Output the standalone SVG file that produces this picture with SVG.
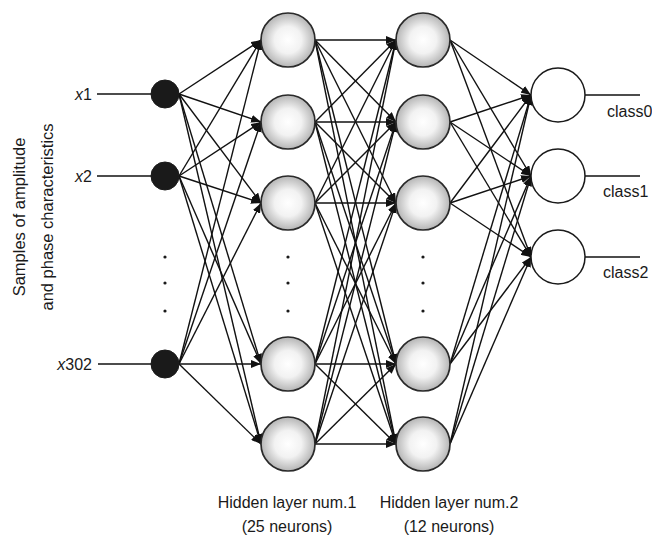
<svg xmlns="http://www.w3.org/2000/svg" width="652" height="537" viewBox="0 0 652 537">
<style>
text{font-family:"Liberation Sans",Arial,sans-serif;font-size:16px;fill:#1a1a1a}
.v{font-size:16.5px}
.c line{stroke:#111;stroke-width:1.4;fill:none}
.a{marker-end:url(#ah)}
.in{fill:#1a1a1a;stroke:#1a1a1a}
.hid{fill:url(#g);stroke:#2a2a2a;stroke-width:1.7}
.out{fill:#fff;stroke:#1a1a1a;stroke-width:1.5}
.dot{fill:#1a1a1a}
</style>
<defs>
<radialGradient id="g" cx="0.5" cy="0.5" r="0.5">
<stop offset="0" stop-color="#ffffff"/>
<stop offset="0.5" stop-color="#f2f2f2"/>
<stop offset="1" stop-color="#b5b5b5"/>
</radialGradient>
<marker id="ah" markerUnits="userSpaceOnUse" markerWidth="10" markerHeight="8" refX="10" refY="4" orient="auto">
<path d="M0,0 L10,4 L0,8 z" fill="#111"/>
</marker>
</defs>
<text class="v" transform="translate(25,217) rotate(-90)" text-anchor="middle">Samples of amplitude</text>
<text class="v" transform="translate(53,217) rotate(-90)" text-anchor="middle">and phase characteristics</text>
<g id="connectors" class="c">
<line x1="97" y1="94" x2="151" y2="94"/>
<line x1="97" y1="176" x2="151" y2="176"/>
<line x1="98" y1="364" x2="151" y2="364"/>
<line x1="585" y1="95" x2="640" y2="95"/>
<line x1="585" y1="176" x2="640" y2="176"/>
<line x1="585" y1="257" x2="640" y2="257"/>
<line class="a" x1="179" y1="94" x2="261" y2="40"/>
<line class="a" x1="179" y1="94" x2="261" y2="122"/>
<line class="a" x1="179" y1="94" x2="261" y2="203"/>
<line class="a" x1="179" y1="94" x2="261" y2="364"/>
<line class="a" x1="179" y1="94" x2="261" y2="444"/>
<line class="a" x1="179" y1="176" x2="261" y2="40"/>
<line class="a" x1="179" y1="176" x2="261" y2="122"/>
<line class="a" x1="179" y1="176" x2="261" y2="203"/>
<line class="a" x1="179" y1="176" x2="261" y2="364"/>
<line class="a" x1="179" y1="176" x2="261" y2="444"/>
<line class="a" x1="179" y1="364" x2="261" y2="40"/>
<line class="a" x1="179" y1="364" x2="261" y2="122"/>
<line class="a" x1="179" y1="364" x2="261" y2="203"/>
<line class="a" x1="179" y1="364" x2="261" y2="364"/>
<line class="a" x1="179" y1="364" x2="261" y2="444"/>
<line class="a" x1="315" y1="40" x2="396" y2="40"/>
<line class="a" x1="315" y1="40" x2="396" y2="122"/>
<line class="a" x1="315" y1="40" x2="396" y2="203"/>
<line class="a" x1="315" y1="40" x2="396" y2="364"/>
<line class="a" x1="315" y1="40" x2="396" y2="444"/>
<line class="a" x1="315" y1="122" x2="396" y2="40"/>
<line class="a" x1="315" y1="122" x2="396" y2="122"/>
<line class="a" x1="315" y1="122" x2="396" y2="203"/>
<line class="a" x1="315" y1="122" x2="396" y2="364"/>
<line class="a" x1="315" y1="122" x2="396" y2="444"/>
<line class="a" x1="315" y1="203" x2="396" y2="40"/>
<line class="a" x1="315" y1="203" x2="396" y2="122"/>
<line class="a" x1="315" y1="203" x2="396" y2="203"/>
<line class="a" x1="315" y1="203" x2="396" y2="364"/>
<line class="a" x1="315" y1="203" x2="396" y2="444"/>
<line class="a" x1="315" y1="364" x2="396" y2="40"/>
<line class="a" x1="315" y1="364" x2="396" y2="122"/>
<line class="a" x1="315" y1="364" x2="396" y2="203"/>
<line class="a" x1="315" y1="364" x2="396" y2="364"/>
<line class="a" x1="315" y1="364" x2="396" y2="444"/>
<line class="a" x1="315" y1="444" x2="396" y2="40"/>
<line class="a" x1="315" y1="444" x2="396" y2="122"/>
<line class="a" x1="315" y1="444" x2="396" y2="203"/>
<line class="a" x1="315" y1="444" x2="396" y2="364"/>
<line class="a" x1="315" y1="444" x2="396" y2="444"/>
<line class="a" x1="450" y1="40" x2="531" y2="95"/>
<line class="a" x1="450" y1="40" x2="531" y2="176"/>
<line class="a" x1="450" y1="40" x2="531" y2="257"/>
<line class="a" x1="450" y1="122" x2="531" y2="95"/>
<line class="a" x1="450" y1="122" x2="531" y2="176"/>
<line class="a" x1="450" y1="122" x2="531" y2="257"/>
<line class="a" x1="450" y1="203" x2="531" y2="95"/>
<line class="a" x1="450" y1="203" x2="531" y2="176"/>
<line class="a" x1="450" y1="203" x2="531" y2="257"/>
<line class="a" x1="450" y1="364" x2="531" y2="95"/>
<line class="a" x1="450" y1="364" x2="531" y2="176"/>
<line class="a" x1="450" y1="364" x2="531" y2="257"/>
<line class="a" x1="450" y1="444" x2="531" y2="95"/>
<line class="a" x1="450" y1="444" x2="531" y2="176"/>
<line class="a" x1="450" y1="444" x2="531" y2="257"/>
</g>
<g id="in1"><circle class="in" cx="165" cy="94" r="14"/><text x="92" y="100" text-anchor="end"><tspan font-style="italic">x</tspan>1</text></g>
<g id="in2"><circle class="in" cx="165" cy="176" r="14"/><text x="92" y="182" text-anchor="end"><tspan font-style="italic">x</tspan>2</text></g>
<g id="in302"><circle class="in" cx="165" cy="364" r="14"/><text x="92" y="370" text-anchor="end"><tspan font-style="italic">x</tspan>302</text></g>
<g id="in-dots"><circle class="dot" cx="165" cy="257" r="1.6"/><circle class="dot" cx="165" cy="283" r="1.6"/><circle class="dot" cx="165" cy="311" r="1.6"/></g>
<g id="h1a"><circle class="hid" cx="288" cy="40" r="27"/></g>
<g id="h1b"><circle class="hid" cx="288" cy="122" r="27"/></g>
<g id="h1c"><circle class="hid" cx="288" cy="203" r="27"/></g>
<g id="h1d"><circle class="hid" cx="288" cy="364" r="27"/></g>
<g id="h1e"><circle class="hid" cx="288" cy="444" r="27"/></g>
<g id="h1-dots"><circle class="dot" cx="288" cy="257" r="1.6"/><circle class="dot" cx="288" cy="283" r="1.6"/><circle class="dot" cx="288" cy="311" r="1.6"/></g>
<g id="h2a"><circle class="hid" cx="423" cy="40" r="27"/></g>
<g id="h2b"><circle class="hid" cx="423" cy="122" r="27"/></g>
<g id="h2c"><circle class="hid" cx="423" cy="203" r="27"/></g>
<g id="h2d"><circle class="hid" cx="423" cy="364" r="27"/></g>
<g id="h2e"><circle class="hid" cx="423" cy="444" r="27"/></g>
<g id="h2-dots"><circle class="dot" cx="423" cy="257" r="1.6"/><circle class="dot" cx="423" cy="283" r="1.6"/><circle class="dot" cx="423" cy="311" r="1.6"/></g>
<g id="out0"><circle class="out" cx="558" cy="95" r="27"/><text x="607" y="117">class0</text></g>
<g id="out1"><circle class="out" cx="558" cy="176" r="27"/><text x="603" y="197">class1</text></g>
<g id="out2"><circle class="out" cx="558" cy="257" r="27"/><text x="603" y="278">class2</text></g>
<g id="labels">
<text x="287" y="508" text-anchor="middle">Hidden layer num.1</text>
<text x="287" y="532" text-anchor="middle">(25 neurons)</text>
<text x="449" y="508" text-anchor="middle">Hidden layer num.2</text>
<text x="449" y="532" text-anchor="middle">(12 neurons)</text>
</g>
</svg>
